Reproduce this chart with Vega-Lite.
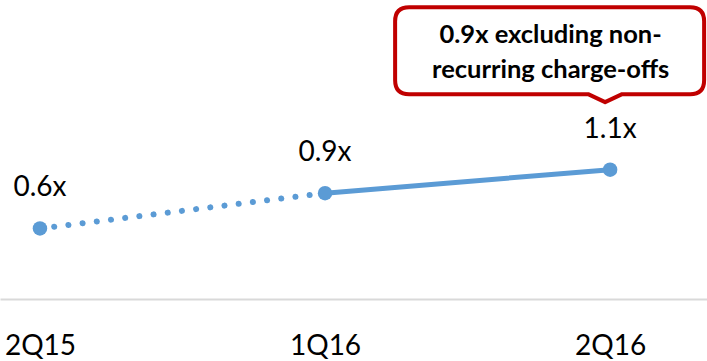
{
  "$schema": "https://vega.github.io/schema/vega-lite/v6.json",
  "width": 707,
  "height": 294,
  "autosize": "none",
  "padding": {"top": 5, "left": 0, "right": 0, "bottom": 62},
  "background": "white",
  "config": {
    "view": {"stroke": null},
    "font": "Lato"
  },
  "datasets": {
    "ratio": [
      {"quarter": "2Q15", "value": 0.6, "label": "0.6x"},
      {"quarter": "1Q16", "value": 0.9, "label": "0.9x"},
      {"quarter": "2Q16", "value": 1.1, "label": "1.1x"}
    ],
    "note": [
      {"quarter": "2Q16", "value": 1.1, "text": ["0.9x excluding non-", "recurring charge-offs"]}
    ]
  },
  "encoding": {
    "x": {
      "field": "quarter",
      "type": "nominal",
      "sort": ["2Q15", "1Q16", "2Q16"],
      "scale": {"type": "point", "padding": 0.24, "align": 0.292},
      "axis": {
        "title": null,
        "labelAngle": 0,
        "labelFontSize": 28,
        "labelColor": "#000000",
        "labelFont": "Lato",
        "labelPadding": 33,
        "ticks": false,
        "tickSize": 0,
        "domainColor": "#D9D9D9",
        "domainWidth": 2,
        "grid": false
      }
    },
    "y": {
      "field": "value",
      "type": "quantitative",
      "scale": {"domain": [0, 2.5], "nice": false, "zero": true},
      "axis": null
    }
  },
  "layer": [
    {
      "data": {"name": "ratio"},
      "transform": [{"filter": "datum.quarter !== '2Q16'"}],
      "mark": {
        "type": "line",
        "color": "#5B9BD5",
        "strokeWidth": 6,
        "strokeCap": "round",
        "strokeDash": [0.1, 14.2]
      }
    },
    {
      "data": {"name": "ratio"},
      "transform": [{"filter": "datum.quarter !== '2Q15'"}],
      "mark": {
        "type": "line",
        "color": "#5B9BD5",
        "strokeWidth": 5,
        "strokeCap": "round"
      }
    },
    {
      "data": {"name": "ratio"},
      "mark": {"type": "circle", "color": "#5B9BD5", "opacity": 1, "size": 210}
    },
    {
      "data": {"name": "ratio"},
      "mark": {
        "type": "text",
        "dy": -32,
        "baseline": "alphabetic",
        "align": "center",
        "fontSize": 28,
        "color": "#000000"
      },
      "encoding": {"text": {"field": "label"}}
    },
    {
      "data": {"name": "note"},
      "mark": {
        "type": "point",
        "filled": false,
        "size": 4,
        "fill": "white",
        "fillOpacity": 1,
        "stroke": "#C00000",
        "strokeWidth": 4,
        "strokeJoin": "round",
        "opacity": 1,
        "shape": "M -201 -162.5 L 80 -162.5 Q 94 -162.5 94 -148.5 L 94 -89.5 Q 94 -75.5 80 -75.5 L 12 -75.5 L -5 -67.5 L -22 -75.5 L -201 -75.5 Q -215 -75.5 -215 -89.5 L -215 -148.5 Q -215 -162.5 -201 -162.5 Z"
      }
    },
    {
      "data": {"name": "note"},
      "mark": {
        "type": "text",
        "dx": -59.5,
        "dy": -126.5,
        "align": "center",
        "baseline": "alphabetic",
        "fontSize": 25.5,
        "fontWeight": "bold",
        "lineHeight": 35,
        "color": "#000000"
      },
      "encoding": {"text": {"field": "text"}}
    }
  ]
}
